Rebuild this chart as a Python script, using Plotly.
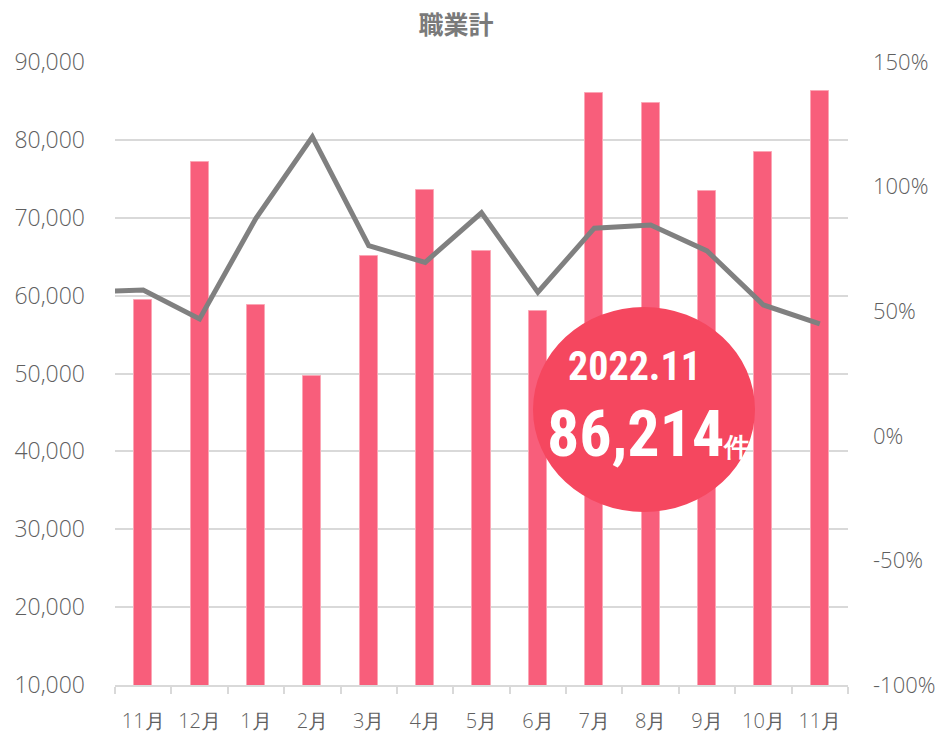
import plotly.graph_objects as go

months = ["11月", "12月", "1月", "2月", "3月", "4月", "5月", "6月", "7月", "8月", "9月", "10月", "11月"]
counts = [59500, 77200, 58750, 49650, 65100, 73500, 65750, 58050, 86050, 84700, 73400, 78500, 86214]
# year-over-year ratio (%); first value is the previous month (Oct), drawn clipped at the left edge
ratio_prev = 57.8
ratio = [58.5, 46.9, 87.3, 120.0, 76.3, 69.6, 89.5, 57.6, 83.3, 84.6, 74.2, 52.5, 44.9]

right_tick_vals = [-100, -50, 0, 50, 100, 150]
right_tick_text = ["-100%", "-50%", "0%", "50%", "100%", "150%"]

badge_period = "2022.11"
badge_value = "86,214"
badge_unit = "件"
title_text = "職業計"

x_idx = list(range(len(months)))

BAR = "#f85e7b"
GRID = "#d9d9d9"
TICK = "#5f5f5f"
TICK_FONT = "Open Sans, Lato, sans-serif"

fig = go.Figure()
fig.add_trace(go.Bar(
    x=x_idx, y=counts, width=0.32,
    marker=dict(color=BAR, line=dict(color="#fba6b5", width=1)),
    yaxis="y", hoverinfo="skip",
))
fig.add_trace(go.Scatter(
    x=[-1] + x_idx, y=[ratio_prev] + ratio, mode="lines",
    line=dict(color="#808080", width=5), yaxis="y2", hoverinfo="skip",
))

L, R, T, B = 115, 94, 62, 48
W, H = 942, 733
pw, ph = W - L - R, H - T - B

def px_x(p):
    return (p - L) / pw

def px_y(p):
    return (H - B - p) / ph

fig.add_shape(type="circle", xref="paper", yref="paper",
              x0=px_x(533), x1=px_x(755), y0=px_y(512), y1=px_y(307),
              fillcolor="#f5475f", line=dict(width=0), layer="above")

badge_font = "Liberation Sans Narrow, Roboto Condensed, DejaVu Sans Condensed, sans-serif"
fig.add_annotation(xref="paper", yref="paper", x=px_x(634), y=px_y(366),
                   xanchor="center", yanchor="middle",
                   text=badge_period, showarrow=False,
                   font=dict(family=badge_font, size=40, color="white", weight="bold"))
fig.add_annotation(xref="paper", yref="paper", x=px_x(648), y=px_y(434),
                   xanchor="center", yanchor="middle",
                   text=badge_value + "<span style='font-size:26px'>" + badge_unit + "</span>",
                   showarrow=False,
                   font=dict(family=badge_font, size=64, color="white", weight="bold"))

fig.update_layout(
    width=W, height=H,
    margin=dict(l=L, r=R, t=T, b=B, autoexpand=False),
    paper_bgcolor="white", plot_bgcolor="white",
    showlegend=False, bargap=0,
    title=dict(text=title_text, x=456 / W, xanchor="center", xref="container",
               y=1 - 25 / H, yanchor="middle", yref="container",
               font=dict(family="Noto Sans CJK JP", size=25, color="#7a7a7a", weight="bold")),
    font=dict(family=TICK_FONT, color=TICK),
    xaxis=dict(
        range=[-0.5, 12.5], tickmode="array", tickvals=x_idx, ticktext=months,
        ticks="", showgrid=False, zeroline=False, automargin=False,
        showline=True, linecolor=GRID, linewidth=2,
        minor=dict(tick0=-0.5, dtick=1, ticks="outside", ticklen=7, tickcolor=GRID, tickwidth=2, showgrid=False),
        tickfont=dict(size=20, color=TICK, family=TICK_FONT, weight=300),
        ticklabelstandoff=17,
    ),
    yaxis=dict(
        range=[10000, 90000], dtick=10000, tickformat=",", automargin=False,
        showgrid=True, gridcolor=GRID, gridwidth=2, zeroline=False,
        ticks="", tickfont=dict(size=23, color=TICK, weight=300), ticklabelstandoff=29,
    ),
    yaxis2=dict(
        overlaying="y", side="right", range=[-100, 150],
        tickmode="array", tickvals=right_tick_vals, ticktext=right_tick_text,
        showgrid=False, zeroline=False, ticks="", automargin=False,
        tickfont=dict(size=22, color=TICK, weight=300), ticklabelstandoff=24,
    ),
)

fig.write_html("out.html")
